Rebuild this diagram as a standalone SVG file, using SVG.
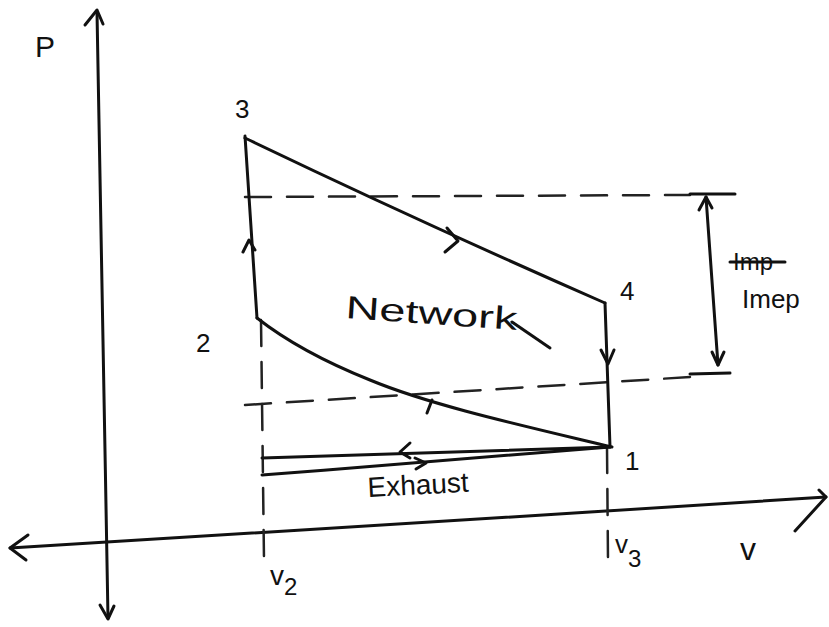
<svg xmlns="http://www.w3.org/2000/svg" width="829" height="627" viewBox="0 0 829 627">
<style>
.ln{fill:none;stroke:#111;stroke-width:3;stroke-linecap:round;stroke-linejoin:round}
.ds{fill:none;stroke:#222;stroke-width:2.5;stroke-dasharray:26 16;stroke-linecap:round}
.t{font-family:"Liberation Sans","DejaVu Sans",sans-serif;fill:#111}
</style>
<rect width="829" height="627" fill="#fff"/>
<g id="axes">
<path class="ln" d="M97,12 C100,150 104,400 108,618"/>
<path class="ln" d="M85,25 L97,10 L103,24"/>
<path class="ln" d="M100,605 L108,619 L114,606"/>
<path class="ln" d="M10,548 C250,533 550,515 826,497"/>
<path class="ln" d="M28,535 L10,548 L26,560"/>
<path class="ln" d="M795,531 L826,497 L819,490"/>
</g>
<g id="dashed">
<path class="ds" d="M245,197 L690,195"/>
<path class="ds" d="M245,405 L690,377"/>
<path class="ds" d="M261,320 L264,560"/>
<path class="ds" d="M607,447 L608,560"/>
</g>
<g id="connectors">
<path class="ln" d="M245,138 Q420,222 605,303"/>
<path class="ln" d="M447,228 L458,241 L445,252"/>
<path class="ln" d="M605,303 L610,447"/>
<path class="ln" d="M601,350 L608,364 L614,350"/>
<path class="ln" d="M612,447 C520,425 430,405 370,380 C320,360 285,340 257,318"/>
<path class="ln" d="M432,400 L427,413"/>
<path class="ln" d="M257,318 L245,136"/>
<path class="ln" d="M243,252 L249,240 L255,250"/>
<path class="ln" d="M262,458 L610,447"/>
<path class="ln" d="M410,443 L400,452 L410,458"/>
<path class="ln" d="M262,475 C380,466 500,455 610,447"/>
<path class="ln" d="M415,458 L426,463 L416,469"/>
<path class="ln" d="M690,194 L735,194"/>
<path class="ln" d="M690,374 L730,373"/>
<path class="ln" d="M706,197 L718,365"/>
<path class="ln" d="M699,210 L706,197 L712,208"/>
<path class="ln" d="M712,352 L718,365 L724,352"/>
<path class="ln" d="M512,322 L550,348"/>
</g>
<g id="labels">
<text class="t" x="35" y="57" font-size="30">P</text>
<text class="t" x="235" y="118" font-size="26">3</text>
<text class="t" x="196" y="352" font-size="26">2</text>
<text class="t" x="620" y="300" font-size="26">4</text>
<text class="t" x="625" y="470" font-size="26">1</text>
<text class="t" x="345" y="318" font-size="32" textLength="172" lengthAdjust="spacingAndGlyphs" transform="rotate(4 345 318)">Network</text>
<text class="t" x="368" y="497" font-size="28" transform="rotate(-3 368 497)">Exhaust</text>
<text class="t" x="270" y="585" font-size="28">v<tspan font-size="24" dy="10">2</tspan></text>
<text class="t" x="615" y="553" font-size="26">v<tspan font-size="24" dy="14">3</tspan></text>
<text class="t" x="740" y="560" font-size="32">v</text>
<text class="t" x="733" y="270" font-size="24">Imp</text>
<path class="ln" d="M730,262 L785,262" stroke-width="2.5"/>
<text class="t" x="742" y="308" font-size="26">Imep</text>
</g>
</svg>
